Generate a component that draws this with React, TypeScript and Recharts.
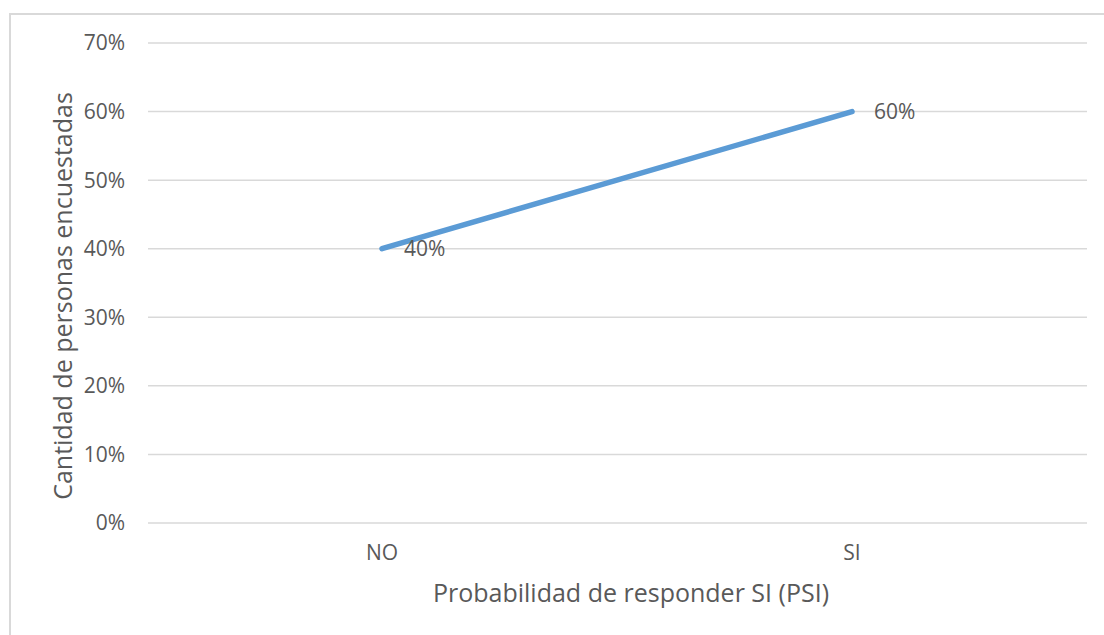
import { LineChart, Line, XAxis, YAxis, CartesianGrid, LabelList } from 'recharts';

const categories = ['NO', 'SI'];
const shares = [0.4, 0.6];
const yTicks = [0, 0.1, 0.2, 0.3, 0.4, 0.5, 0.6, 0.7];

const data = categories.map((name, i) => ({ name, value: shares[i] }));

const FONT = '"Open Sans", "Liberation Sans", sans-serif';
const TEXT = '#595959';
const pct = (v: number) => `${Math.round(v * 100)}%`;

const YTitle = () => (
  <text
    x={62}
    y={296}
    transform="rotate(-90 62 296)"
    textAnchor="middle"
    dominantBaseline="central"
    fill={TEXT}
    fontFamily={FONT}
    fontSize={25}
  >
    Cantidad de personas encuestadas
  </text>
);

const XTitle = () => (
  <text
    x={631}
    y={592}
    textAnchor="middle"
    dominantBaseline="central"
    fill={TEXT}
    fontFamily={FONT}
    fontSize={25}
  >
    Probabilidad de responder SI (PSI)
  </text>
);

const App = () => {
  return (
    <div style={{ position: 'absolute', left: 0, top: 0, width: 1104, height: 635, overflow: 'hidden', background: '#fff' }}>
      <div
        style={{
          position: 'absolute',
          left: 9,
          top: 13,
          width: 1200,
          height: 700,
          border: '2px solid #d9d9d9',
        }}
      />
      <div style={{ position: 'absolute', left: 0, top: 0 }}>
        <LineChart width={1104} height={635} data={data} margin={{ top: 43, right: 17, left: 0, bottom: 62 }}>
          <CartesianGrid vertical={false} stroke="#d9d9d9" strokeWidth={1.5} />
          <XAxis
            dataKey="name"
            height={50}
            padding={{ left: 234, right: 235 }}
            axisLine={false}
            tickLine={false}
            tickMargin={16}
            tick={{ fill: TEXT, fontFamily: FONT, fontSize: 21 }}
            label={<XTitle />}
          />
          <YAxis
            width={148}
            domain={[0, 0.7]}
            ticks={yTicks}
            tickFormatter={pct}
            axisLine={false}
            tickLine={false}
            tickMargin={17}
            tick={{ fill: TEXT, fontFamily: FONT, fontSize: 21 }}
            label={<YTitle />}
          />
          <Line
            dataKey="value"
            stroke="#5b9bd5"
            strokeWidth={5.5}
            strokeLinecap="round"
            dot={false}
            activeDot={false}
            isAnimationActive={false}
          >
            <LabelList
              dataKey="value"
              position="right"
              offset={22}
              formatter={(v: any) => pct(Number(v))}
              fill={TEXT}
              fontFamily={FONT}
              fontSize={21}
            />
          </Line>
        </LineChart>
      </div>
    </div>
  );
};

export default App;
